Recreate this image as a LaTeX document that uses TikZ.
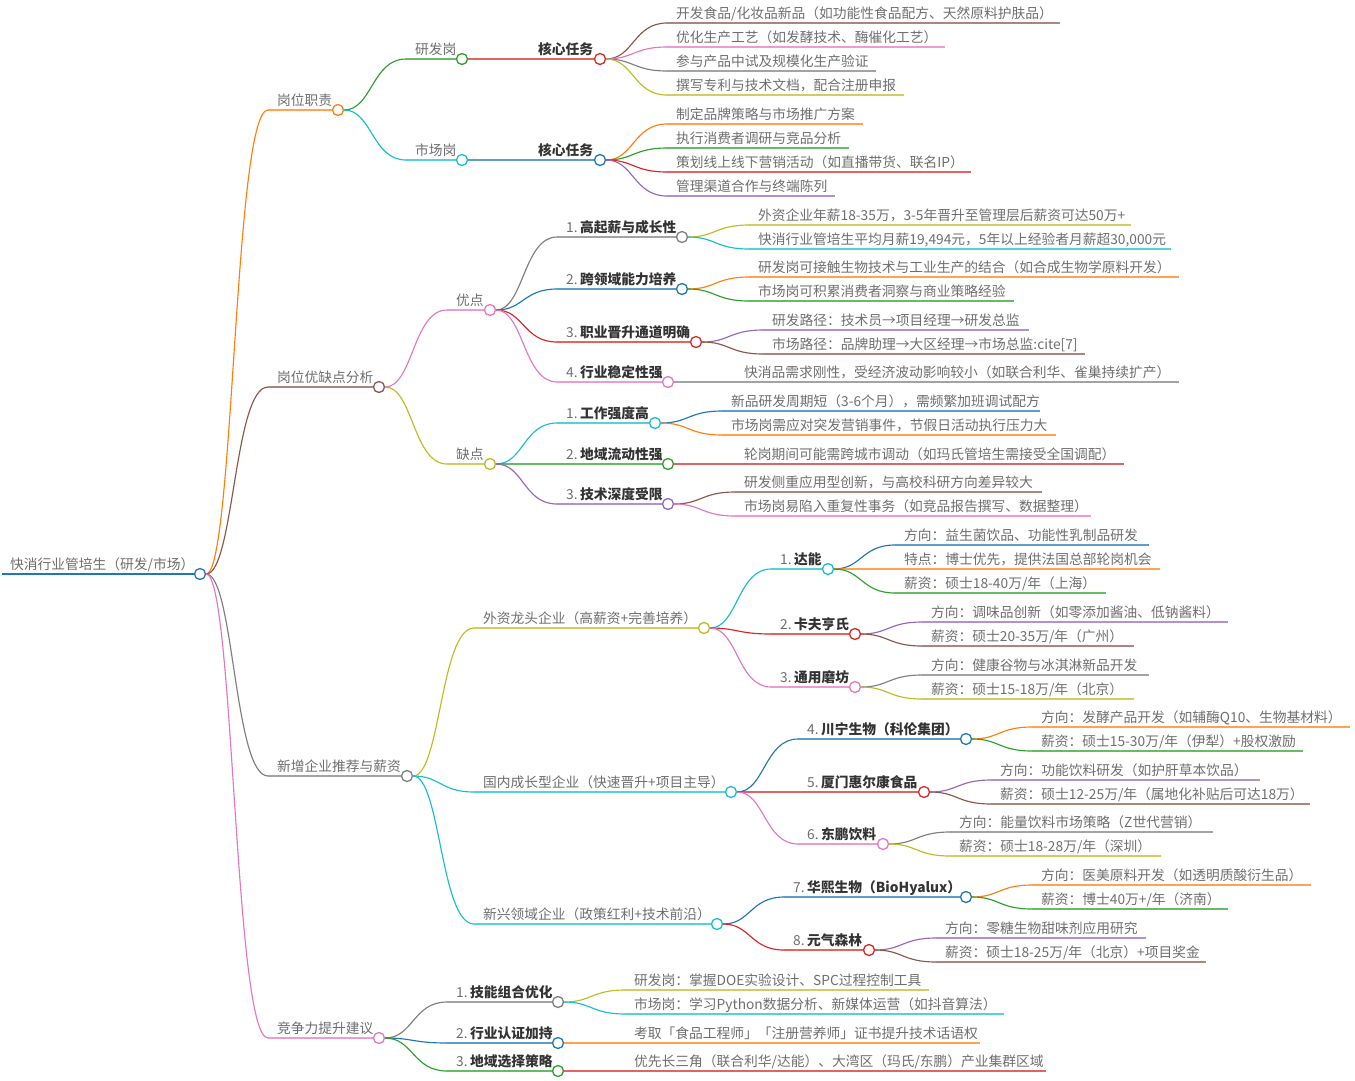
\documentclass[tikz,border=0pt]{standalone}
\usepackage{fontspec}
\setmainfont{Noto Sans CJK SC}
\usetikzlibrary{calc}
\definecolor{tblue}{HTML}{1F77B4}
\definecolor{torange}{HTML}{FF7F0E}
\definecolor{tgreen}{HTML}{2CA02C}
\definecolor{tred}{HTML}{D62728}
\definecolor{tpurple}{HTML}{9467BD}
\definecolor{tbrown}{HTML}{8C564B}
\definecolor{tpink}{HTML}{E377C2}
\definecolor{tgray}{HTML}{7F7F7F}
\definecolor{tolive}{HTML}{BCBD22}
\definecolor{tcyan}{HTML}{17BECF}
\definecolor{txtgray}{HTML}{6E6E6E}
\definecolor{keygray}{HTML}{333333}
\newcommand{\key}[1]{{\color{keygray}\bfseries #1}}
\newcommand{\ord}[2]{#1.\hspace{2.5pt}\key{#2}}
\begin{document}
\begin{tikzpicture}[x=1pt,y=-1pt,
	dot/.style={circle,draw=#1,fill=white,line width=1.3pt,inner sep=0pt,minimum size=11pt},
	lab/.style={anchor=base west,inner sep=0pt,text=txtgray,font=\fontsize{13.75}{16}\selectfont},
	flat/.style={line width=1.4pt,opacity=0.72},
	link/.style={line width=1.15pt,to path={let \p1=(\tikztostart),\p2=(\tikztotarget),\n1={0.5*\x1+0.5*\x2} in .. controls (\n1,\y1) and (\n1,\y2) .. (\tikztotarget)}}]
\useasboundingbox (0,0) rectangle (1355,1080);
\coordinate (rs) at (2,574);
\node[dot=tblue] (r) at (200,574) {};
\node[lab] (rt) at (10,569) {快消行业管培生（研发/市场）};
\draw[line width=2.4pt,tblue] (rs) -- (r);
\foreach \name/\from/\kind/\col/\tx/\ex/\ty/\txt in {
	a/r/link/torange/277/338/110/{岗位职责},
	b/r/link/tbrown/277/379/387/{岗位优缺点分析},
	c/r/link/tgray/277/407/776/{新增企业推荐与薪资},
	d/r/link/tpink/277/379/1038/{竞争力提升建议},
	a1/a/link/tgreen/415/462/59/{研发岗},
	a2/a/link/tcyan/415/462/160/{市场岗},
	a11/a1/flat/tred/538/600/59/{\key{核心任务}},
	a21/a2/flat/tblue/538/600/160/{\key{核心任务}},
	b1/b/link/tpink/456/490/310/{优点},
	b2/b/link/tolive/456/490/464/{缺点},
	b11/b1/link/tgray/566/682/237/{\ord{1}{高起薪与成长性}},
	b12/b1/link/tblue/566/682/289/{\ord{2}{跨领域能力培养}},
	b13/b1/link/tred/566/696/342/{\ord{3}{职业晋升通道明确}},
	b14/b1/link/tpink/566/668/382/{\ord{4}{行业稳定性强}},
	b21/b2/link/tcyan/566/655/423/{\ord{1}{工作强度高}},
	b22/b2/flat/tgreen/566/668/464/{\ord{2}{地域流动性强}},
	b23/b2/link/tpurple/566/668/504/{\ord{3}{技术深度受限}},
	c1/c/link/tolive/483/704/628/{外资龙头企业（高薪资+完善培养）},
	c2/c/link/tcyan/483/731/792/{国内成长型企业（快速晋升+项目主导）},
	c3/c/link/tcyan/483/717/924/{新兴领域企业（政策红利+技术前沿）},
	c11/c1/link/tcyan/780/828/569/{\ord{1}{达能}},
	c12/c1/link/tred/780/855/634/{\ord{2}{卡夫亨氏}},
	c13/c1/link/tpink/780/855/687/{\ord{3}{通用磨坊}},
	c21/c2/link/tblue/807/966/739/{\ord{4}{川宁生物（科伦集团）}},
	c22/c2/flat/tred/807/924/792/{\ord{5}{厦门惠尔康食品}},
	c23/c2/link/tpink/807/883/844/{\ord{6}{东鹏饮料}},
	c31/c3/link/tblue/793/966/897/{\ord{7}{华熙生物（BioHyalux）}},
	c32/c3/link/tred/793/869/950/{\ord{8}{元气森林}},
	d1/d/link/tgray/456/558/1002/{\ord{1}{技能组合优化}},
	d2/d/link/tblue/456/558/1043/{\ord{2}{行业认证加持}},
	d3/d/link/tgreen/456/558/1071/{\ord{3}{地域选择策略}}}
{
	\coordinate (\name s) at (\tx-9,\ty);
	\node[dot=\col] (\name) at (\ex,\ty) {};
	\node[lab] (\name t) at (\tx,\ty-5) {\txt};
	\draw[\kind,\col] (\from) to (\name s);
	\draw[flat,\col] (\name s) -- (\name);
}
\foreach \name/\from/\kind/\col/\tx/\ex/\ty/\txt in {
	e1/a11/link/tbrown/676/1060/23/{开发食品/化妆品新品（如功能性食品配方、天然原料护肤品）},
	e2/a11/link/tpink/676/945/47/{优化生产工艺（如发酵技术、酶催化工艺）},
	e3/a11/link/tgray/676/876/71/{参与产品中试及规模化生产验证},
	e4/a11/link/tolive/676/904/95/{撰写专利与技术文档，配合注册申报},
	e5/a21/link/torange/676/863/124/{制定品牌策略与市场推广方案},
	e6/a21/link/tgreen/676/849/148/{执行消费者调研与竞品分析},
	e7/a21/link/tred/676/971/172/{策划线上线下营销活动（如直播带货、联名IP）},
	e8/a21/link/tpurple/676/835/196/{管理渠道合作与终端陈列},
	f1/b11/link/tolive/758/1131/225/{外资企业年薪18-35万，3-5年晋升至管理层后薪资可达50万+},
	f2/b11/link/tcyan/758/1171/249/{快消行业管培生平均月薪19,494元，5年以上经验者月薪超30,000元},
	f3/b12/link/torange/758/1179/277/{研发岗可接触生物技术与工业生产的结合（如合成生物学原料开发）},
	f4/b12/link/tgreen/758/1014/301/{市场岗可积累消费者洞察与商业策略经验},
	f5/b13/link/tpurple/772/1029/330/{研发路径：技术员→项目经理→研发总监},
	f6/b13/link/tbrown/772/1085/354/{市场路径：品牌助理→大区经理→市场总监:cite[7]},
	f7/b14/flat/tgray/744/1179/382/{快消品需求刚性，受经济波动影响较小（如联合利华、雀巢持续扩产）},
	g1/b21/link/tblue/731/1040/411/{新品研发周期短（3-6个月），需频繁加班调试配方},
	g2/b21/link/torange/731/1056/435/{市场岗需应对突发营销事件，节假日活动执行压力大},
	g3/b22/flat/tred/744/1124/464/{轮岗期间可能需跨城市调动（如玛氏管培生需接受全国调配）},
	g4/b23/link/tbrown/744/1042/492/{研发侧重应用型创新，与高校科研方向差异较大},
	g5/b23/link/tpink/744/1091/516/{市场岗易陷入重复性事务（如竞品报告撰写、数据整理）},
	h1/c11/link/tblue/904/1149/545/{方向：益生菌饮品、功能性乳制品研发},
	h2/c11/flat/torange/904/1160/569/{特点：博士优先，提供法国总部轮岗机会},
	h3/c11/link/tgreen/904/1106/593/{薪资：硕士18-40万/年（上海）},
	h4/c12/link/tpurple/931/1228/622/{方向：调味品创新（如零添加酱油、低钠酱料）},
	h5/c12/link/tbrown/931/1134/646/{薪资：硕士20-35万/年（广州）},
	h6/c13/link/tgray/931/1149/675/{方向：健康谷物与冰淇淋新品开发},
	h7/c13/link/tolive/931/1134/699/{薪资：硕士15-18万/年（北京）},
	i1/c21/link/torange/1041/1350/727/{方向：发酵产品开发（如辅酶Q10、生物基材料）},
	i2/c21/link/tgreen/1041/1303/751/{薪资：硕士15-30万/年（伊犁）+股权激励},
	i3/c22/link/tpurple/1000/1260/780/{方向：功能饮料研发（如护肝草本饮品）},
	i4/c22/link/tbrown/1000/1310/804/{薪资：硕士12-25万/年（属地化补贴后可达18万）},
	i5/c23/link/tgray/959/1213/832/{方向：能量饮料市场策略（Z世代营销）},
	i6/c23/link/tolive/959/1161/856/{薪资：硕士18-28万/年（深圳）},
	j1/c31/link/torange/1041/1311/885/{方向：医美原料开发（如透明质酸衍生品）},
	j2/c31/link/tgreen/1041/1228/909/{薪资：博士40万+/年（济南）},
	j3/c32/link/tpurple/945/1146/938/{方向：零糖生物甜味剂应用研究},
	j4/c32/link/tbrown/945/1206/962/{薪资：硕士18-25万/年（北京）+项目奖金},
	k1/d1/link/tolive/634/929/990/{研发岗：掌握DOE实验设计、SPC过程控制工具},
	k2/d1/link/tcyan/634/1004/1014/{市场岗：学习Python数据分析、新媒体运营（如抖音算法）},
	k3/d2/flat/torange/634/980/1043/{考取「食品工程师」「注册营养师」证书提升技术话语权},
	k4/d3/flat/tred/634/1046/1071/{优先长三角（联合利华/达能）、大湾区（玛氏/东鹏）产业集群区域}}
{
	\coordinate (\name s) at (\tx-9,\ty);
	\coordinate (\name) at (\ex,\ty);
	\node[lab] (\name t) at (\tx,\ty-5) {\txt};
	\draw[\kind,\col] (\from) to (\name s);
	\draw[flat,\col] (\name s) -- (\name);
}
\end{tikzpicture}
\end{document}
